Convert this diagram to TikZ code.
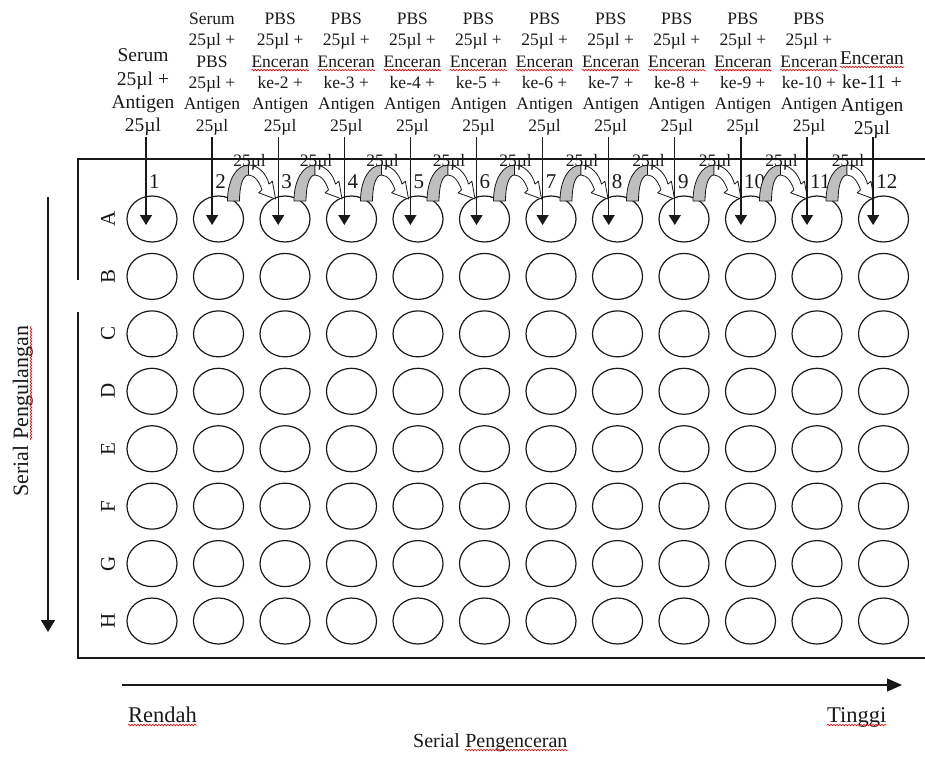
\documentclass[tikz,border=0pt]{standalone}
\usepackage{fontspec}
\setmainfont{Liberation Serif}
\usetikzlibrary{arrows.meta,decorations.pathmorphing,calc,shapes.geometric}
\definecolor{leggray}{RGB}{190,190,190}
\definecolor{ink}{RGB}{25,25,25}
\begin{document}
\begin{tikzpicture}[x=1pt,y=-1pt,
  every node/.style={inner sep=0pt, text=ink},
  well/.style={draw=ink, ellipse, minimum width=50pt, minimum height=46pt, line width=1.2pt},
  lbl/.style={font=\fontsize{17.5}{21}\selectfont, anchor=base},
  lblbig/.style={font=\fontsize{19.5}{23}\selectfont, anchor=base},
  num/.style={font=\fontsize{21}{25}\selectfont, anchor=base west},
  rowl/.style={font=\fontsize{21}{25}\selectfont, rotate=90},
  axis/.style={font=\fontsize{22.5}{27}\selectfont, anchor=base west},
  dn/.style={draw=ink, line width=1.3pt, -{Triangle[width=12pt,length=10pt]}},
  plate/.style={draw=ink, line width=1.4pt},
  wave/.style={draw=red, line width=0.6pt, decorate, decoration={snake, segment length=3pt, amplitude=0.8pt}},
  curv/.style={draw=ink, line width=0.8pt, line join=round},
]
\useasboundingbox (0,0) rectangle (925,756);

% plate outline
\coordinate (tl) at (78,159);
\coordinate (tr) at (925,159);
\coordinate (bl) at (78,658);
\coordinate (br) at (925,658);
\coordinate (g1) at (78,280);
\coordinate (g2) at (78,312);
\draw[plate] (tr) -- (tl) -- (g1);
\draw[plate] (g2) -- (bl) -- (br);

% wells and numbers
\foreach \c in {1,...,12} {
  \pgfmathsetmacro{\cx}{152+66.5*(\c-1)}
  \pgfmathsetmacro{\ax}{146+66.1*(\c-1)}
  \foreach [count=\r] \R in {A,...,H} {
    \node[well] (w\R\c) at (\cx,{219+57.43*(\r-1)}) {};
  }
  \node[num] (n\c) at (\ax+3,188) {\c};
}

% row letters
\foreach [count=\r] \R in {A,...,H} {
  \node[rowl] (r\R) at (108,{219+57.43*(\r-1)}) {\R};
}

% curved transfer arrows
\foreach \c in {2,...,11} {
  \pgfmathsetmacro{\cx}{152+66.5*(\c-1)}
  \begin{scope}[shift={(\cx,0)}]
    \draw[curv, fill=leggray] (9,201) .. controls (9,180) and (18,165) .. (30,165)
      -- (30,175) .. controls (24,175) and (21,187) .. (21,201) -- cycle;
    \draw[curv, fill=white] (30,165) .. controls (40,165) and (48,174) .. (50.5,184.1)
      -- (53.9,181.2) -- (57,199) -- (40.1,192.8) -- (43.5,189.9)
      .. controls (41,182) and (36,175) .. (30,175) -- cycle;
    \node[lbl] (t\c) at (31,166) {25µl};
  \end{scope}
}

% column labels
\pgfmathsetmacro{\axa}{146-3}
\node[lblbig] (c1a) at (\axa,61) {Serum};
\node[lblbig] (c1b) at (\axa,85) {25µl +};
\node[lblbig] (c1c) at (\axa,108) {Antigen};
\node[lblbig] (c1d) at (\axa,131) {25µl};

\node[lbl] (c2a) at (212,24.5) {Serum};
\node[lbl] (c2b) at (212,45.8) {25µl +};
\node[lbl] (c2c) at (212,67.1) {PBS};
\node[lbl] (c2d) at (212,88.4) {25µl +};
\node[lbl] (c2e) at (212,109.7) {Antigen};
\node[lbl] (c2f) at (212,131) {25µl};

\foreach \c in {3,...,11} {
  \pgfmathsetmacro{\lx}{148+66.1*(\c-1)}
  \pgfmathtruncatemacro{\k}{\c-1}
  \node[lbl] (p\c) at (\lx,24.5) {PBS};
  \node[lbl] (q\c) at (\lx,45.8) {25µl +};
  \node[lbl] (e\c) at (\lx,67.1) {Enceran};
  \node[lbl] (k\c) at (\lx,88.4) {ke-\k\ +};
  \node[lbl] (g\c) at (\lx,109.7) {Antigen};
  \node[lbl] (m\c) at (\lx,131) {25µl};
  \draw[wave] ($(e\c.base west)+(0,3)$) -- ($(e\c.base east)+(0,3)$);
}

\node[lblbig] (c12a) at (872,64) {Enceran};
\node[lblbig] (c12b) at (872,88) {ke-11 +};
\node[lblbig] (c12c) at (872,111) {Antigen};
\node[lblbig] (c12d) at (872,134) {25µl};
\draw[wave] ($(c12a.base west)+(0,3)$) -- ($(c12a.base east)+(0,3)$);

% downward addition arrows
\foreach \c in {1,...,12} {
  \pgfmathsetmacro{\ax}{146+66.1*(\c-1)}
  \coordinate (s\c) at (\ax,137);
  \coordinate (d\c) at (\ax,225);
  \draw[dn] (s\c) -- (d\c);
}

% vertical axis
\coordinate (va1) at (48,197);
\coordinate (va2) at (48,632);
\draw[draw=ink, line width=1.3pt, -{Triangle[width=14pt,length=12pt]}] (va1) -- (va2);
\node[font=\fontsize{22}{26}\selectfont, rotate=90, anchor=base west] (sl1) at (28,497) {Serial};
\node[font=\fontsize{22}{26}\selectfont, rotate=90, anchor=base west] (sl2) at ($(sl1.base east)+(0,-5.5)$) {Pengulangan};
\draw[wave] ($(sl2.base west)+(3,0)$) -- ($(sl2.base east)+(3,0)$);

% horizontal axis
\coordinate (ha1) at (122,685);
\coordinate (ha2) at (902,685);
\draw[draw=ink, line width=1.3pt, -{Triangle[width=13pt,length=15pt]}] (ha1) -- (ha2);
\node[axis] (lo) at (128,722) {Rendah};
\node[axis] (hi) at (827,722) {Tinggi};
\draw[wave] ($(lo.base west)+(0,3)$) -- ($(lo.base east)+(0,3)$);
\draw[wave] ($(hi.base west)+(0,3)$) -- ($(hi.base east)+(0,3)$);
\node[font=\fontsize{20}{24}\selectfont, anchor=base west] (sp1) at (413,747) {Serial};
\node[font=\fontsize{20}{24}\selectfont, anchor=base west] (sp2) at ($(sp1.base east)+(5,0)$) {Pengenceran};
\draw[wave] ($(sp2.base west)+(0,3)$) -- ($(sp2.base east)+(0,3)$);
\end{tikzpicture}
\end{document}
